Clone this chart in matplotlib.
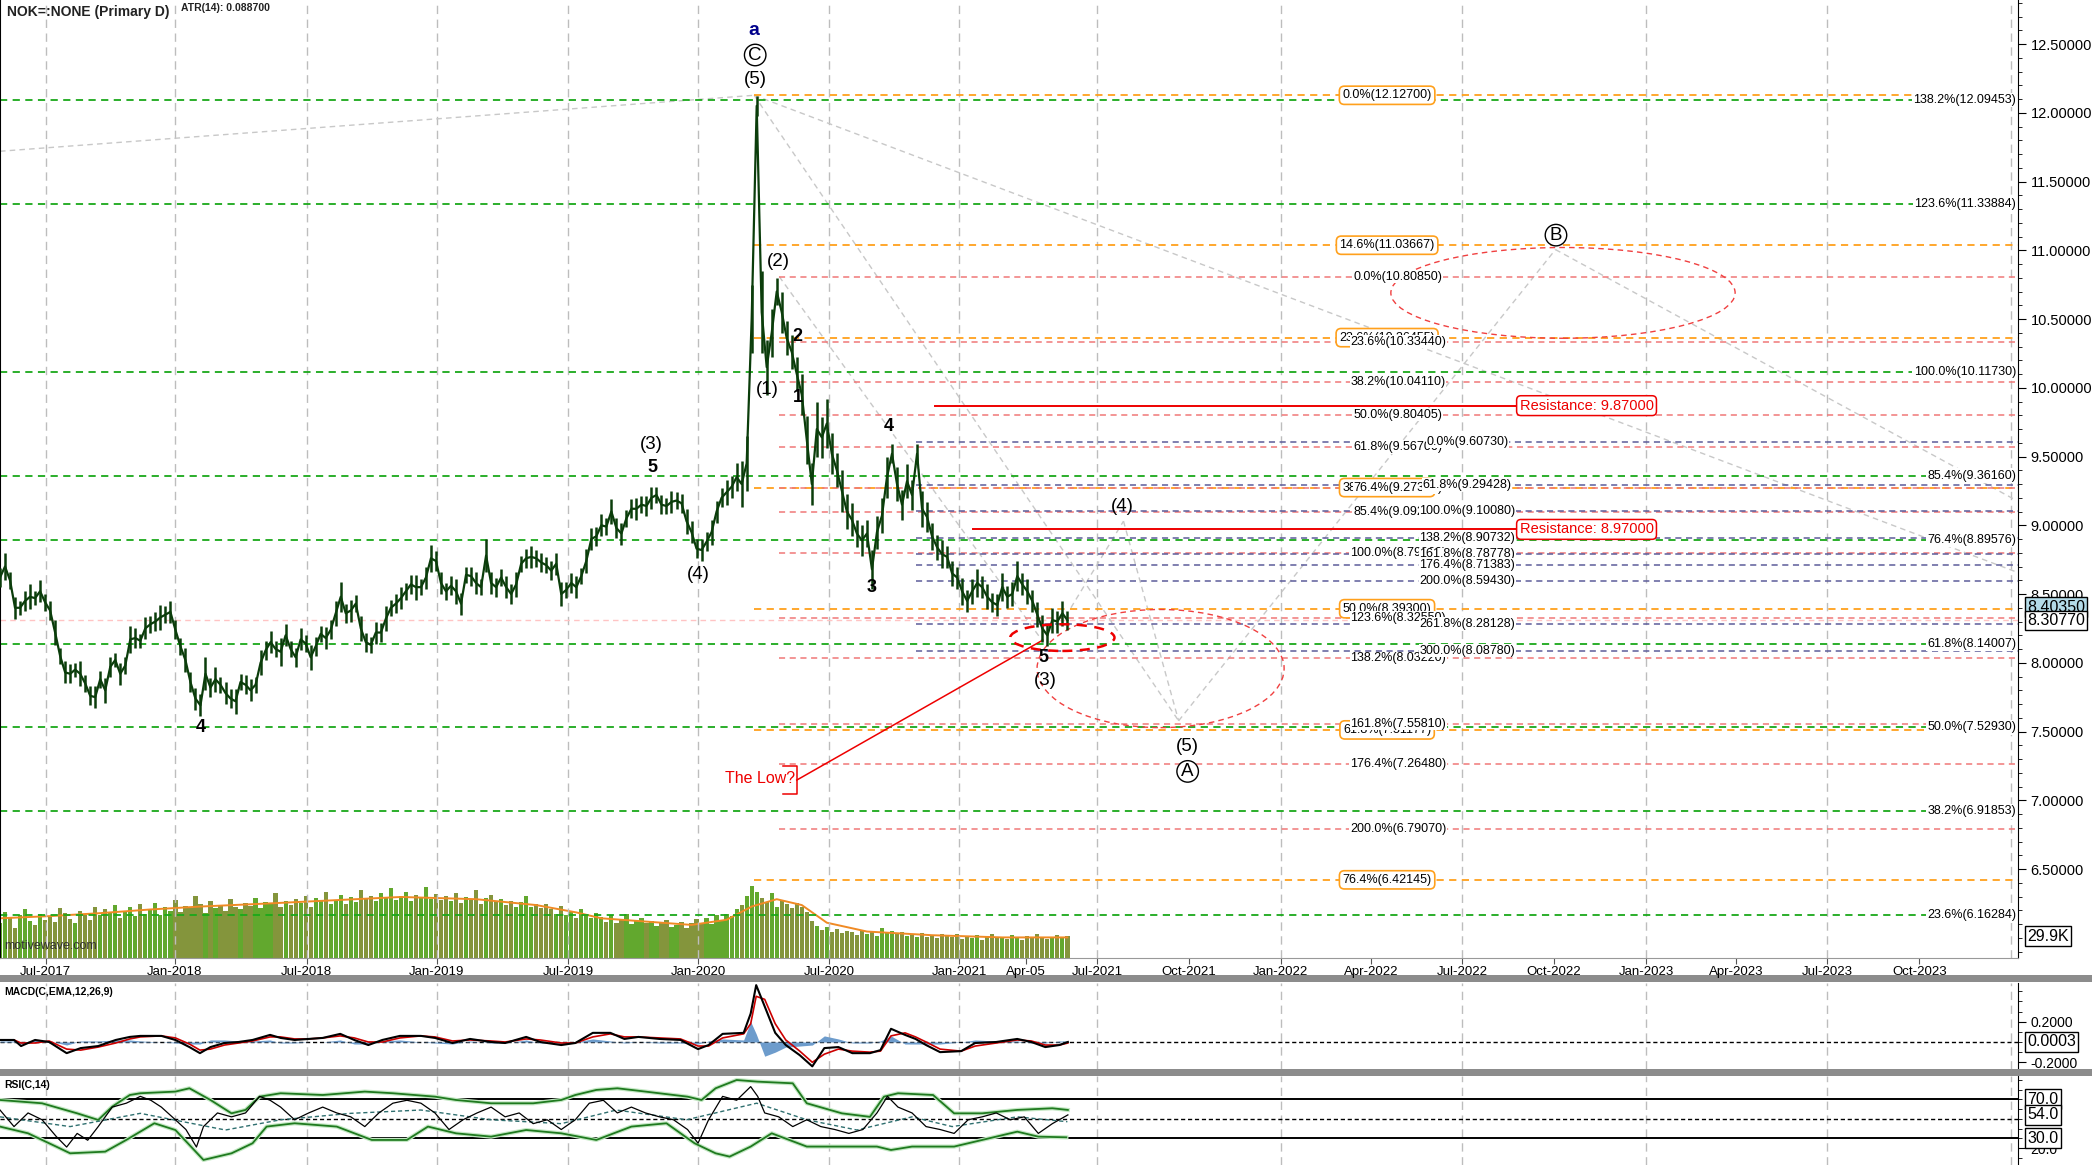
import numpy as np
import matplotlib.pyplot as plt
from matplotlib.patches import Ellipse, Rectangle
from matplotlib.transforms import blended_transform_factory
from matplotlib.ticker import MultipleLocator

plt.rcParams['font.family'] = ['Liberation Sans', 'DejaVu Sans']
NARROW = ['Liberation Sans Narrow', 'Liberation Sans', 'DejaVu Sans']

# ---------------- data (x axis = weekly bar index) ----------------
price = [8.62, 8.70, 8.60, 8.40, 8.40, 8.45, 8.48, 8.47, 8.52, 8.44,
         8.38, 8.22, 8.05, 7.93, 7.92, 7.95, 7.92, 7.85, 7.76, 7.75,
         7.88, 7.80, 7.97, 8.02, 7.92, 7.98, 8.17, 8.18, 8.16, 8.25,
         8.28, 8.30, 8.33, 8.35, 8.37, 8.24, 8.12, 8.02, 7.86, 7.74,
         7.69, 7.92, 7.82, 7.88, 7.84, 7.78, 7.74, 7.72, 7.86, 7.84,
         7.80, 7.84, 8.00, 8.09, 8.15, 8.10, 8.08, 8.20, 8.10, 8.04,
         8.17, 8.14, 8.04, 8.12, 8.21, 8.18, 8.24, 8.36, 8.48, 8.36,
         8.38, 8.43, 8.25, 8.15, 8.13, 8.22, 8.22, 8.32, 8.40, 8.43,
         8.47, 8.52, 8.57, 8.55, 8.55, 8.62, 8.76, 8.74, 8.58, 8.52,
         8.56, 8.52, 8.43, 8.64, 8.63, 8.58, 8.55, 8.78, 8.58, 8.55,
         8.62, 8.55, 8.50, 8.57, 8.72, 8.76, 8.77, 8.76, 8.73, 8.71,
         8.67, 8.72, 8.50, 8.53, 8.58, 8.55, 8.63, 8.74, 8.90, 8.92,
         9.00, 8.99, 9.10, 8.98, 8.94, 9.05, 9.12, 9.12, 9.15, 9.14,
         9.20, 9.22, 9.15, 9.14, 9.17, 9.18, 9.16, 9.03, 8.95, 8.83,
         8.82, 8.88, 8.95, 9.10, 9.20, 9.24, 9.28, 9.35, 9.30, 9.45,
         10.50, 12.05, 10.55, 10.15, 10.40, 10.70, 10.55, 10.36, 10.26, 10.10,
         9.95, 9.62, 9.30, 9.70, 9.64, 9.74, 9.52, 9.40, 9.25, 9.10,
         9.04, 8.94, 8.89, 8.94, 8.68, 8.95, 9.07, 9.35, 9.52, 9.30,
         9.15, 9.32, 9.22, 9.52, 9.12, 9.06, 8.92, 8.84, 8.79, 8.77,
         8.65, 8.62, 8.52, 8.45, 8.52, 8.58, 8.55, 8.48, 8.44, 8.42,
         8.55, 8.48, 8.50, 8.63, 8.57, 8.52, 8.45, 8.35, 8.25, 8.20,
         8.31, 8.30, 8.36, 8.31]

# weekly high-low spread of the daily bars
weekly_range = [0.14, 0.20, 0.12, 0.16, 0.10, 0.14, 0.18, 0.10, 0.16, 0.12,
                0.14, 0.18, 0.12, 0.16, 0.14, 0.10, 0.18, 0.12, 0.14, 0.16,
                0.12, 0.18, 0.14, 0.10, 0.16, 0.12, 0.20, 0.14, 0.10, 0.16,
                0.12, 0.14, 0.18, 0.12, 0.16, 0.14, 0.12, 0.18, 0.14, 0.16,
                0.16, 0.24, 0.14, 0.18, 0.12, 0.16, 0.14, 0.18, 0.12, 0.14,
                0.16, 0.12, 0.18, 0.14, 0.16, 0.12, 0.20, 0.16, 0.12, 0.14,
                0.16, 0.12, 0.18, 0.14, 0.12, 0.16, 0.14, 0.18, 0.22, 0.14,
                0.16, 0.12, 0.18, 0.14, 0.12, 0.16, 0.14, 0.18, 0.12, 0.14,
                0.16, 0.12, 0.14, 0.18, 0.12, 0.16, 0.20, 0.14, 0.16, 0.12,
                0.14, 0.18, 0.16, 0.12, 0.14, 0.16, 0.12, 0.24, 0.16, 0.14,
                0.12, 0.16, 0.14, 0.18, 0.12, 0.14, 0.16, 0.12, 0.14, 0.12,
                0.14, 0.16, 0.18, 0.12, 0.14, 0.16, 0.12, 0.18, 0.16, 0.14,
                0.16, 0.12, 0.18, 0.14, 0.16, 0.12, 0.14, 0.16, 0.12, 0.14,
                0.16, 0.12, 0.14, 0.12, 0.16, 0.12, 0.14, 0.18, 0.16, 0.14,
                0.16, 0.14, 0.18, 0.16, 0.14, 0.18, 0.16, 0.20, 0.34, 0.40,
                0.50, 0.14, 0.60, 0.40, 0.35, 0.20, 0.30, 0.25, 0.25, 0.25,
                0.30, 0.35, 0.30, 0.40, 0.30, 0.35, 0.30, 0.25, 0.30, 0.25,
                0.24, 0.20, 0.22, 0.20, 0.28, 0.24, 0.25, 0.30, 0.14, 0.25,
                0.22, 0.25, 0.22, 0.14, 0.26, 0.22, 0.20, 0.18, 0.20, 0.16,
                0.18, 0.16, 0.20, 0.16, 0.18, 0.20, 0.16, 0.18, 0.14, 0.16,
                0.20, 0.16, 0.18, 0.22, 0.16, 0.18, 0.16, 0.18, 0.20, 0.16,
                0.18, 0.16, 0.18, 0.14]

volume_k = [48, 62, 55, 41, 58, 66, 50, 45, 60, 52,
            57, 49, 68, 61, 53, 47, 64, 59, 52, 70,
            58, 66, 61, 72, 55, 63, 69, 57, 74, 60,
            66, 75, 58, 70, 64, 79, 62, 71, 68, 85,
            73, 61, 77, 68, 72, 64, 80, 70, 66, 75,
            71, 82, 68, 76, 73, 88, 69, 77, 72, 80,
            75, 84, 70, 81, 77, 90, 73, 79, 86, 74,
            83, 76, 92, 80, 85, 78, 88, 81, 95, 79,
            84, 90, 77, 86, 82, 96, 80, 87, 79, 85,
            78, 88, 75, 83, 79, 92, 74, 81, 86, 77,
            80, 72, 78, 69, 76, 85, 70, 74, 68, 73,
            66, 60, 71, 58, 63, 55, 67, 59, 54, 61,
            56, 49, 58, 47, 53, 60, 46, 51, 55, 48,
            50, 44, 47, 52, 42, 45, 49, 41, 47, 53,
            48, 55, 46, 58, 52, 60, 57, 66, 72, 85,
            98, 90, 82, 76, 88, 70, 79, 73, 68, 75,
            70, 62, 50, 44, 38, 42, 36, 40, 34, 37,
            35, 31, 38, 33, 36, 30, 41, 34, 37, 32,
            36, 30, 33, 29, 34, 28, 31, 27, 33, 30,
            28, 32, 26, 30, 27, 31, 25, 29, 32, 27,
            29, 26, 31, 28, 25, 30, 27, 33, 29, 26,
            28, 31, 27, 30]
vol_ma_x = [0, 10, 20, 30, 40, 53, 65, 80, 95, 107, 115, 120, 130, 138, 145,
            150, 155, 160, 165, 173, 186, 200, 213]
vol_ma = [54, 57, 61, 66, 70, 74, 78, 83, 80, 72, 62, 54, 49, 45, 52,
          70, 80, 72, 48, 36, 31, 28, 28]

macd_x = [0, 2.8, 4.2, 7, 9.8, 13.3, 16.1, 19.6, 23.1, 25.9,
          28, 32.2, 35, 37.8, 39.9, 42, 44.8, 47.6, 50.4, 53.9,
          56, 58.8, 61.6, 64.4, 67.9, 70.7, 73.5, 76.3, 79.8, 84,
          86.8, 90.3, 93.8, 98, 100.8, 105, 107.8, 112, 114.8, 118.3,
          121.8, 124.6, 127.4, 131.6, 135.8, 139.3, 141.4, 144.2, 148.4, 149.8,
          150.9, 152.6, 154.7, 156.8, 159.6, 162.1, 164.5, 167.3, 170.1, 173.6,
          175.7, 177.8, 180.6, 182.7, 184.8, 187.6, 191.8, 194.6, 198.8, 203,
          205.8, 208.6, 211.4, 213.1]
macd = [0.02, 0.02, -0.04, 0.02, 0, -0.11, -0.06, -0.04, 0.02, 0.05,
        0.06, 0.06, 0.02, -0.05, -0.11, -0.05, -0.01, 0, 0.02, 0.07,
        0.04, 0.02, 0.03, 0.04, 0.08, 0.02, -0.03, 0.02, 0.06, 0.06,
        0.04, -0.01, 0.03, 0, -0.01, 0.05, 0, -0.03, -0.01, 0.09,
        0.09, 0.03, 0.05, 0.03, 0.02, -0.07, -0.03, 0.08, 0.09, 0.28,
        0.56, 0.35, 0.09, -0.03, -0.13, -0.24, -0.06, -0.05, -0.11, -0.11,
        -0.08, 0.13, 0.07, 0.03, -0.03, -0.10, -0.09, -0.01, 0, 0.03,
        0, -0.05, -0.03, 0]
macd_signal = [0.02, 0.02, -0.01, -0.01, 0.01, -0.07, -0.08, -0.05, -0.01, 0.03,
               0.05, 0.06, 0.04, -0.02, -0.08, -0.07, -0.03, -0.01, 0.01, 0.05,
               0.05, 0.03, 0.03, 0.04, 0.06, 0.04, 0, 0, 0.04, 0.06,
               0.05, 0.01, 0.02, 0.01, 0, 0.03, 0.02, -0.01, -0.01, 0.05,
               0.08, 0.05, 0.05, 0.04, 0.03, -0.04, -0.04, 0.04, 0.08, 0.18,
               0.45, 0.42, 0.18, 0.02, -0.09, -0.20, -0.12, -0.07, -0.09, -0.10,
               -0.09, 0.06, 0.09, 0.05, 0, -0.07, -0.09, -0.04, -0.01, 0.02,
               0.01, -0.03, -0.03, -0.01]
macd_hist = [0.01, 0.01, -0.02, 0.02, 0.01, -0.03, 0.01, 0.01, 0.02, 0.02,
             0.01, 0, -0.01, -0.02, -0.02, 0.02, 0.02, 0.01, 0.01, 0.02,
             -0.01, -0.01, 0, 0, 0.02, -0.02, -0.02, 0.01, 0.02, 0,
             -0.01, -0.02, 0.01, -0.01, -0.01, 0.02, -0.01, -0.01, 0, 0.03,
             0.01, -0.01, 0, -0.01, -0.01, -0.02, 0.01, 0.03, 0.02, 0.20,
             0.08, -0.14, -0.10, -0.05, -0.04, -0.03, 0.06, 0.03, -0.01, -0.01,
             0.01, 0.06, -0.02, -0.02, -0.02, -0.02, 0, 0.02, 0.01, 0.01,
             -0.01, -0.01, 0.01, 0.01]

rsi_x = [0, 2.8, 5.6, 8.4, 11.2, 13.3, 15.4, 17.5, 19.6, 22.4,
         25.2, 28, 30.1, 32.2, 35, 37.1, 39.2, 40.6, 43.4, 46.2,
         49, 51.8, 53.9, 56, 58.8, 61.6, 64.4, 67.2, 70, 72.8,
         75.6, 78.4, 81.2, 84, 86.8, 89.6, 92.4, 95.2, 98, 100.8,
         103.6, 106.4, 109.2, 112, 114.8, 117.6, 120.4, 123.2, 126, 128.8,
         131.6, 134.4, 137.2, 139.3, 141.4, 144.2, 147, 149.8, 151.2, 152.6,
         155.4, 158.2, 161, 163.8, 166.6, 169.4, 172.2, 175, 177.1, 179.2,
         182, 184.8, 187.6, 190.4, 193.2, 196, 198.8, 201.6, 204.4, 207.2,
         210, 213.1]
rsi = [59, 42, 56, 49, 32, 21, 35, 28, 42, 62,
       66, 73, 69, 62, 49, 39, 21, 42, 56, 52,
       56, 73, 69, 62, 49, 56, 62, 56, 52, 42,
       56, 66, 69, 66, 56, 39, 49, 56, 62, 52,
       56, 45, 49, 39, 49, 66, 69, 56, 62, 56,
       52, 49, 39, 25, 49, 73, 69, 83, 73, 56,
       52, 42, 49, 42, 39, 35, 39, 56, 73, 62,
       56, 42, 39, 35, 49, 52, 56, 49, 52, 35,
       45, 54]
rsi_up_x = [0, 8.4, 15.4, 19.6, 22.4, 25.9, 28, 35, 37.8, 42,
            46.2, 49, 51.8, 56, 64.4, 72.8, 78.4, 86.8, 91, 98,
            106.4, 112, 114.8, 119, 123.2, 128.8, 137.2, 140, 142.8, 147,
            151.2, 158.2, 161, 168, 173.6, 176.4, 179.2, 186.2, 190.4, 196,
            203, 210, 213.1]
rsi_up = [69.3, 65.9, 55.6, 48.8, 62.5, 74.4, 76.2, 77.9, 81.3, 69.3,
          55.6, 59.1, 72.7, 76.2, 74.4, 77.9, 76.2, 72.7, 69.3, 65.9,
          65.9, 69.3, 74.4, 79.6, 81.3, 77.9, 72.7, 69.3, 81.3, 89.8,
          88.1, 86.4, 65.9, 55.6, 52.0, 72.7, 76.2, 74.4, 55.6, 55.6,
          59.1, 60.8, 59.1]
rsi_lo_x = [0, 5.6, 11.2, 14, 21, 25.2, 30.8, 35, 40.6, 46.2,
            50.4, 53.2, 58.8, 67.2, 74.2, 81.2, 85.4, 91, 98, 105,
            112, 119, 126, 133, 138.6, 142.8, 145.6, 149.8, 154, 161,
            168, 175, 177.8, 182, 190.4, 196, 203, 207.2, 212.8]
rsi_lo = [42, 35.1, 21.5, 14.6, 16.3, 28.3, 45.4, 38.5, 7.8, 14.6,
          24.9, 42, 45.4, 42, 28.3, 28.3, 42, 35.1, 31.7, 38.5,
          35.1, 28.3, 42, 45.4, 24.9, 14.6, 11.2, 21.5, 35.1, 21.5,
          21.5, 21.5, 18, 21.5, 21.5, 28.3, 36.8, 31.7, 31]
rsi_mid_x = [0, 14, 28, 45, 56, 70, 84, 98, 112, 123, 137, 151, 161, 171, 182, 190, 203, 213]
rsi_mid = [52, 42, 55.6, 38.5, 49, 55.6, 59, 49, 45, 59, 49, 66, 49, 38.5, 52, 42, 52, 47]

tick_labels = ['Jul-2017', 'Jan-2018', 'Jul-2018', 'Jan-2019', 'Jul-2019', 'Jan-2020',
               'Jul-2020', 'Jan-2021', 'Apr-05', 'Jul-2021', 'Oct-2021', 'Jan-2022',
               'Apr-2022', 'Jul-2022', 'Oct-2022', 'Jan-2023', 'Apr-2023', 'Jul-2023',
               'Oct-2023']
tick_x = [9.1, 34.9, 61.2, 87.2, 113.4, 139.3, 165.4, 191.4, 204.8, 219.0, 237.3,
          255.6, 273.6, 291.8, 310.1, 328.5, 346.4, 364.6, 383.0]

# fib levels
green_pcts = ['138.2%', '123.6%', '100.0%', '85.4%', '76.4%', '61.8%', '50.0%', '38.2%', '23.6%']
green_levels = [12.09453, 11.33884, 10.11730, 9.36160, 8.89576, 8.14007, 7.52930, 6.91853, 6.16284]
orange_pcts = ['0.0%', '14.6%', '23.6%', '38.2%', '50.0%', '61.8%', '76.4%']
orange_levels = [12.12700, 11.03667, 10.36455, 9.27422, 8.39300, 7.51177, 6.42145]
pink_pcts = ['0.0%', '23.6%', '38.2%', '50.0%', '61.8%', '76.4%', '85.4%', '100.0%',
             '123.6%', '138.2%', '161.8%', '176.4%', '200.0%']
pink_levels = [10.80850, 10.33440, 10.04110, 9.80405, 9.56700, 9.27370, 9.09290, 8.79960,
               8.32550, 8.03220, 7.55810, 7.26480, 6.79070]
blue_pcts = ['0.0%', '61.8%', '100.0%', '138.2%', '161.8%', '176.4%', '200.0%', '261.8%', '300.0%']
blue_levels = [9.60730, 9.29428, 9.10080, 8.90732, 8.78778, 8.71383, 8.59430, 8.28128, 8.08780]
resistance_levels = [9.87, 8.97]

last_price = 8.3077
bid_price = 8.4035
last_volume = 29.9
last_macd = 0.0003
last_rsi = 54.0

# wave labels: (text, week, price, style)
wave_labels = [
    ('(5)', 150.7, 12.24, 'paren'), ('(2)', 155.3, 10.92, 'paren'), ('(1)', 153.1, 9.99, 'paren'),
    ('2', 159.2, 10.37, 'bold'), ('1', 159.2, 9.93, 'bold'), ('(3)', 130.0, 9.59, 'paren'),
    ('5', 130.2, 9.42, 'bold'), ('(4)', 139.3, 8.64, 'paren'), ('3', 173.9, 8.55, 'bold'),
    ('4', 177.4, 9.72, 'bold'), ('5', 208.3, 8.04, 'bold'), ('(3)', 208.5, 7.87, 'paren'),
    ('(4)', 224.0, 9.14, 'paren'), ('(5)', 237.0, 7.39, 'paren'), ('4', 40.0, 7.53, 'bold'),
]
circle_labels = [('C', 150.7, 12.42), ('A', 237.0, 7.21), ('B', 310.5, 11.11)]

# projection lines (week, price) pairs
proj_lines = [
    ((0, 11.72), (150.5, 12.127)),
    ((150.5, 12.127), (402.4, 8.66)),
    ((150.5, 12.127), (235.2, 7.578)),
    ((155.5, 10.8085), (208.2, 8.15)),
    ((213.7, 8.40), (224.2, 9.03)),
    ((224.2, 9.03), (235.2, 7.578)),
    ((235.2, 7.578), (310.4, 11.005)),
    ((310.4, 11.005), (402.4, 9.18)),
]

# ---------------- figure ----------------
W, H = 2092, 1165
fig = plt.figure(figsize=(W / 100, H / 100), dpi=100)
RIGHT = 2018 / W
ax = fig.add_axes([0, 1 - 958 / H, RIGHT, 958 / H])
axm = fig.add_axes([0, 1 - 1069 / H, RIGHT, 86 / H], sharex=ax)
axr = fig.add_axes([0, 0, RIGHT, 89 / H], sharex=ax)

for ytop in (975, 1069):
    fig.add_artist(Rectangle((0, 1 - (ytop + 7) / H), 1, 7 / H, transform=fig.transFigure,
                             facecolor='#8c8c8c', edgecolor='none'))

weeks = np.arange(len(price))
XMAX = 402.7
ax.set_xlim(0, XMAX)
ax.set_ylim(5.853, 12.82)
axm.set_ylim(-0.266, 0.581)
axr.set_ylim(2.6, 93.9)

# grid lines (half-year)
grid_x = [x for x, l in zip(tick_x, tick_labels) if l[:3] in ('Jan', 'Jul')] + [401.4]
for a in (ax, axm, axr):
    for gx in grid_x:
        a.axvline(gx, color='#bdbdbd', lw=1, ls=(0, (6, 4)), zorder=0)

# volume
axv = ax.twinx()
axv.set_ylim(0, 1303)
axv.set_yticks([])
for s in axv.spines.values():
    s.set_visible(False)
ax.set_zorder(axv.get_zorder() + 1)
ax.patch.set_visible(False)
up = np.r_[True, np.diff(price) >= 0]
vcol = np.where(up, '#62a82e', '#84953c')
axv.bar(weeks, volume_k, width=0.85, color=vcol, linewidth=0)
axv.plot(vol_ma_x, vol_ma, color='#f08a24', lw=1.4)

# price fib lines
dash = (0, (4, 3))
for lvl, pct in zip(green_levels, green_pcts):
    ax.plot([0, XMAX], [lvl, lvl], color='#1aa81a', lw=1.3, ls=dash, zorder=2)
    ax.text(402.3, lvl, f'{pct}({lvl:.5f})', family=NARROW, fontsize=9, ha='right', va='center',
            bbox=dict(boxstyle='square,pad=0.1', fc='white', ec='none'), zorder=7)
for lvl, pct in zip(orange_levels, orange_pcts):
    ax.plot([150.5, XMAX], [lvl, lvl], color='#ffa01c', lw=1.3, ls=dash, zorder=2)
    ax.text(276.8, lvl, f'{pct}({lvl:.5f})', family=NARROW, fontsize=9, ha='center', va='center',
            bbox=dict(boxstyle='round,pad=0.25,rounding_size=0.4', fc='white', ec='#ffa01c', lw=1.2),
            zorder=7)
for lvl, pct in zip(pink_levels, pink_pcts):
    ax.plot([155.5, XMAX], [lvl, lvl], color='#f07878', lw=1.1, ls=dash, zorder=2)
    ax.text(279.0, lvl, f'{pct}({lvl:.5f})', family=NARROW, fontsize=9, ha='center', va='center',
            bbox=dict(boxstyle='square,pad=0.05', fc='white', ec='none'), zorder=8)
for lvl, pct in zip(blue_levels, blue_pcts):
    ax.plot([182.8, XMAX], [lvl, lvl], color='#5c5c9a', lw=1.1, ls=dash, zorder=2)
    ax.text(292.8, lvl, f'{pct}({lvl:.5f})', family=NARROW, fontsize=9, ha='center', va='center',
            bbox=dict(boxstyle='square,pad=0.05', fc='white', ec='none'), zorder=8)
ax.plot([0, XMAX], [last_price, last_price], color='#ffc4c4', lw=1, ls=dash, zorder=1)

for lvl, xs in zip(resistance_levels, [186.6, 194.2]):
    ax.plot([xs, 305.0], [lvl, lvl], color='#ee0000', lw=1.4, zorder=3)
    ax.text(316.6, lvl, f'Resistance: {lvl:.5f}', family=NARROW, fontsize=10.5, color='#ee0000',
            ha='center', va='center',
            bbox=dict(boxstyle='round,pad=0.2,rounding_size=0.3', fc='white', ec='#ee0000', lw=1.1),
            zorder=8)

for (x0, y0), (x1, y1) in proj_lines:
    ax.plot([x0, x1], [y0, y1], color='#c8c8c8', lw=1, ls=(0, (4, 3)), zorder=1)

ax.add_patch(Ellipse((311.9, 10.69), 68.7, 0.66, fill=False, ec='#f04040', lw=1, ls=(0, (4, 3)), zorder=3))
ax.add_patch(Ellipse((231.6, 7.958), 49.3, 0.859, fill=False, ec='#f04040', lw=1, ls=(0, (4, 3)), zorder=3))
ax.add_patch(Ellipse((212.0, 8.183), 20.8, 0.194, fill=False, ec='#ee0000', lw=1.8, ls=(0, (4, 3)), zorder=6))

# price: weekly high-low bars plus close line
p = np.array(price)
r = np.array(weekly_range)
ax.vlines(weeks, p - r / 2, p + r / 2, color='#0b3d0b', lw=1.8, zorder=5)
ax.plot(weeks, price, color='#0b3d0b', lw=1.6, zorder=5)

# wave labels
ax.text(150.5, 12.60, 'a', color='#00008b', fontsize=14, fontweight='bold', ha='center', va='center', zorder=9)
for txt, x, y, style in wave_labels:
    if style == 'bold':
        ax.text(x, y, txt, fontsize=13, fontweight='bold', ha='center', va='center', zorder=9)
    else:
        ax.text(x, y, txt, fontsize=13.5, ha='center', va='center', zorder=9)
for txt, x, y in circle_labels:
    ax.text(x, y, txt, fontsize=13.5, ha='center', va='center', zorder=9,
            bbox=dict(boxstyle='circle,pad=0.12', fc='white', ec='black', lw=1))

# "The Low?" callout
ax.text(151.7, 7.155, 'The Low?', color='#ee0000', family=NARROW, fontsize=11.5, ha='center', va='center')
ax.plot([156.2, 159.0, 159.0, 156.2], [7.247, 7.247, 7.044, 7.044], color='#ee0000', lw=1.1)
ax.plot([159.0, 208.1], [7.147, 8.165], color='#ee0000', lw=1.1)

# axes styling - main
ax.yaxis.tick_right()
ax.set_yticks(np.arange(6.5, 12.51, 0.5))
ax.set_yticklabels([f'{v:.5f}' for v in np.arange(6.5, 12.51, 0.5)], family=NARROW, fontsize=10.5)
ax.yaxis.set_minor_locator(MultipleLocator(0.1))
ax.tick_params(axis='y', which='major', direction='out', length=6, pad=3)
ax.tick_params(axis='y', which='minor', direction='out', length=3)
ax.set_xticks(tick_x)
ax.set_xticklabels(tick_labels, family=NARROW, fontsize=9.5)
ax.tick_params(axis='x', direction='out', length=4, pad=2, color='#555555')
ax.spines['top'].set_visible(False)
ax.spines['left'].set_color('black')
ax.spines['left'].set_linewidth(1.5)
ax.spines['bottom'].set_color('#999999')

for a in (axm, axr):
    a.yaxis.tick_right()
    a.tick_params(axis='x', bottom=False, labelbottom=False)
    a.spines['top'].set_visible(False)
    a.spines['left'].set_visible(False)
    a.spines['bottom'].set_visible(False)

# MACD
axm.axhline(0, color='black', lw=1, ls=(0, (3, 2)), zorder=1)
axm.fill_between(macd_x, 0, macd_hist, color='#6d9ccc', lw=0, zorder=2)
axm.plot(macd_x, macd_signal, color='#cc0000', lw=1.2, zorder=3)
axm.plot(macd_x, macd, color='black', lw=1.5, zorder=4)
axm.set_yticks([-0.2, 0.2])
axm.set_yticklabels(['-0.2000', '0.2000'], family=NARROW, fontsize=10)
axm.yaxis.set_minor_locator(MultipleLocator(0.1))
axm.tick_params(axis='y', which='major', length=6, pad=3)
axm.tick_params(axis='y', which='minor', length=3)

# RSI
axr.axhline(70, color='black', lw=1.4, zorder=1)
axr.axhline(30, color='black', lw=1.4, zorder=1)
axr.axhline(50, color='black', lw=1, ls=(0, (3, 2)), zorder=1)
for bx, by in ((rsi_up_x, rsi_up), (rsi_lo_x, rsi_lo)):
    axr.plot(bx, by, color='#c4e8c4', lw=3, zorder=2)
    axr.plot(bx, by, color='#1f7a1f', lw=1.3, zorder=3)
axr.plot(rsi_mid_x, rsi_mid, color='#2f6f6f', lw=1, ls=(0, (3, 2)), zorder=3)
axr.plot(rsi_x, rsi, color='black', lw=0.9, zorder=4)
axr.set_yticks([20])
axr.set_yticklabels(['20.0'], family=NARROW, fontsize=10)
axr.yaxis.set_minor_locator(MultipleLocator(10))
axr.tick_params(axis='y', which='major', length=6, pad=3)
axr.tick_params(axis='y', which='minor', length=3)


def value_box(a, y, txt, fc='white'):
    tr = blended_transform_factory(a.transAxes, a.transData)
    a.text(1.0045, y, txt, transform=tr, family=NARROW, fontsize=11.5, ha='left', va='center',
           bbox=dict(boxstyle='square,pad=0.15', fc=fc, ec='black', lw=1), clip_on=False, zorder=10)


value_box(ax, bid_price, f'{bid_price:.5f}', fc='#b4dbe8')
value_box(ax, last_price, f'{last_price:.5f}')
value_box(axv, last_volume, f'{last_volume:.1f}K')
value_box(axm, last_macd, f'{last_macd:.4f}')
for v in (70.0, last_rsi, 30.0):
    value_box(axr, v, f'{v:.1f}')

# titles
fig.text(7 / W, 1 - 12 / H, 'NOK=:NONE (Primary D)', fontsize=10, fontweight='bold', va='center', color='#222222')
fig.text(181 / W, 1 - 8 / H, 'ATR(14): 0.088700', fontsize=7.5, fontweight='bold', va='center', color='#222222')
fig.text(4 / W, 1 - 946 / H, 'motivewave.com', fontsize=9, va='center', color='#333333')
fig.text(4 / W, 1 - 992 / H, 'MACD(C,EMA,12,26,9)', fontsize=7.5, fontweight='bold', va='center')
fig.text(4 / W, 1 - 1085 / H, 'RSI(C,14)', fontsize=7.5, fontweight='bold', va='center')

fig.savefig('out.png', dpi=100)
